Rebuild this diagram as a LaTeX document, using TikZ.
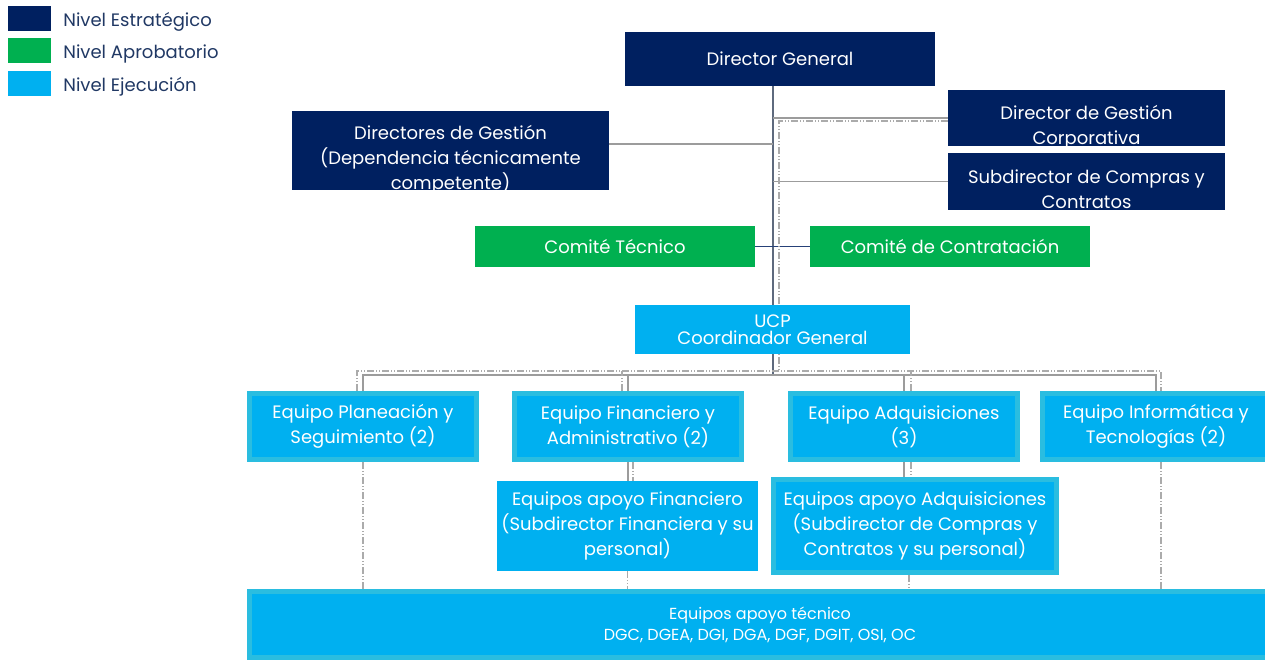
\documentclass[tikz,border=0pt]{standalone}
\usepackage{fontspec}
\setmainfont{Poppins}
\usetikzlibrary{calc,positioning,backgrounds}
\definecolor{strat}{HTML}{002060}
\definecolor{aprob}{HTML}{00B050}
\definecolor{ejec}{HTML}{00B0F0}
\definecolor{ejecedge}{HTML}{2ABDE0}
\definecolor{legtext}{HTML}{203864}
\definecolor{linegray}{HTML}{9C9C9C}
\definecolor{trunkgray}{HTML}{5E6A7E}
\tikzset{
  box/.style={inner sep=0pt, align=center, text=white, font=\fontsize{18}{25}\selectfont},
  stratbox/.style={box, fill=strat},
  aprobbox/.style={box, fill=aprob},
  ejecbox/.style={box, fill=ejec},
  framedbox/.style={ejecbox, draw=ejecedge, line width=5pt},
  legsq/.style={minimum width=43pt, minimum height=25pt, inner sep=0pt},
  legtext/.style={inner sep=0pt, text=legtext, font=\fontsize{18}{20}\selectfont},
  link/.style={draw=linegray, line width=1.3pt},
  trunk/.style={draw=trunkgray, line width=1.5pt},
  ctline/.style={draw=strat!85, line width=1.3pt},
  dashlink/.style={draw=linegray!85, line width=1.2pt,
    dash pattern=on 7pt off 2pt on 1pt off 2pt on 1pt off 2pt}
}

\begin{document}
\begin{tikzpicture}[x=1pt,y=-1pt]
  \path[use as bounding box, clip] (0,0) rectangle (1265,660);
  % legend
  \foreach \c/\t [count=\i] in {strat/Nivel Estratégico, aprob/Nivel Aprobatorio, ejec/Nivel Ejecución}{
    \node[legsq, fill=\c] (leg\i) at (29.5,-14+32.5*\i) {};
    \node[legtext, right=12pt of leg\i, yshift=-3pt] (legt\i) {\t};
  }
  % nivel estrategico
  \node[stratbox, minimum width=310pt, minimum height=54pt] (dg) at (780,59) {Director General};
  \node[stratbox, minimum width=277pt, minimum height=56pt,
        path picture={\node[box] (dgct) at ([yshift=-9pt]path picture bounding box.center)
          {Director de Gestión\\Corporativa};}] (dgc) at (1086.5,118) {};
  \node[stratbox, minimum width=317pt, minimum height=79pt,
        path picture={\node[box] (dirgt) at ([yshift=-9pt]path picture bounding box.center)
          {Directores de Gestión\\(Dependencia técnicamente\\competente)};}] (dirg) at (450.5,150.5) {};
  \node[stratbox, minimum width=277pt, minimum height=57pt,
        path picture={\node[box] (subt) at ([yshift=-8pt]path picture bounding box.center)
          {Subdirector de Compras y\\Contratos};}] (sub) at (1086.5,181.5) {};
  % nivel aprobatorio
  \node[aprobbox, minimum width=280pt, minimum height=41pt] (ct) at (615,246.5) {Comité Técnico};
  \node[aprobbox, minimum width=280pt, minimum height=41pt] (cc) at (950,246.5) {Comité de Contratación};
  % nivel ejecucion
  \node[ejecbox, minimum width=275pt, minimum height=49pt, font=\fontsize{18}{17}\selectfont]
    (ucp) at (772.5,329.5) {UCP\\Coordinador General};
  \foreach \n/\x/\t in {eq1/363/{Equipo Planeación y\\Seguimiento (2)},
                        eq2/628/{Equipo Financiero y\\Administrativo (2)},
                        eq3/904/{Equipo Adquisiciones\\(3)},
                        eq4/1156/{Equipo Informática y\\Tecnologías (2)}}
    \node[framedbox, minimum width=227pt, minimum height=66pt] (\n) at (\x,426.5) {\t};
  \node[ejecbox, minimum width=261pt, minimum height=90pt] (apf) at (627.5,526)
    {Equipos apoyo Financiero\\(Subdirector Financiera y su\\personal)};
  \node[framedbox, minimum width=283pt, minimum height=93pt] (apa) at (915,526)
    {Equipos apoyo Adquisiciones\\(Subdirector de Compras y\\Contratos y su personal)};
  \node[framedbox, minimum width=1021pt, minimum height=66pt, font=\fontsize{16}{21}\selectfont]
    (apt) at (760,624.5) {Equipos apoyo técnico\\DGC, DGEA, DGI, DGA, DGF, DGIT, OSI, OC};
  % connectors
  \begin{scope}[on background layer]
    \coordinate (hub) at (773,375);
    \coordinate (dhub) at (779,371);
    \draw[trunk] (dg.south -| hub) -- (hub);
    \draw[link] (dirg.east |- 0,144) -- (hub |- 0,144);
    \draw[link] (hub |- dgc.west) -- (dgc.west);
    \draw[link] (hub |- sub.west) -- (sub.west);
    \draw[ctline] (ct.east) -- (cc.west);
    \draw[dashlink] (dgc.west |- 0,121) -| (dhub);
    \draw[link] (eq1.north) |- (hub) -| (eq4.north);
    \foreach \n in {eq2,eq3}
      \draw[link] (\n.north) -- (\n.north |- hub);
    \draw[dashlink] ($(eq1.north)+(-6,0)$) |- (dhub) -| ($(eq4.north)+(5,0)$);
    \foreach \n/\d in {eq2/-6,eq3/7}
      \draw[dashlink] ($(\n.north)+(\d,0)$) -- ($(\n.north |- dhub)+(\d,0)$);
    % lower level
    \draw[dashlink] (eq1.south) -- (eq1.south |- apt.north);
    \draw[link] (eq2.south) -- (eq2.south |- apf.north);
    \draw[dashlink] ($(eq2.south)+(5,0)$) -- ($(eq2.south |- apf.north)+(5,0)$);
    \draw[dashlink] (apf.south) -- (apf.south |- apt.north);
    \draw[link] (eq3.south) -- (eq3.south |- apa.north);
    \draw[dashlink] ($(eq3.south)+(7,0)$) -- ($(eq3.south |- apa.north)+(7,0)$);
    \draw[dashlink] ($(apa.south)+(-6,0)$) -- ($(apa.south |- apt.north)+(-6,0)$);
    \draw[dashlink] ($(eq4.south)+(5,0)$) -- ($(eq4.south |- apt.north)+(5,0)$);
  \end{scope}
\end{tikzpicture}
\end{document}
